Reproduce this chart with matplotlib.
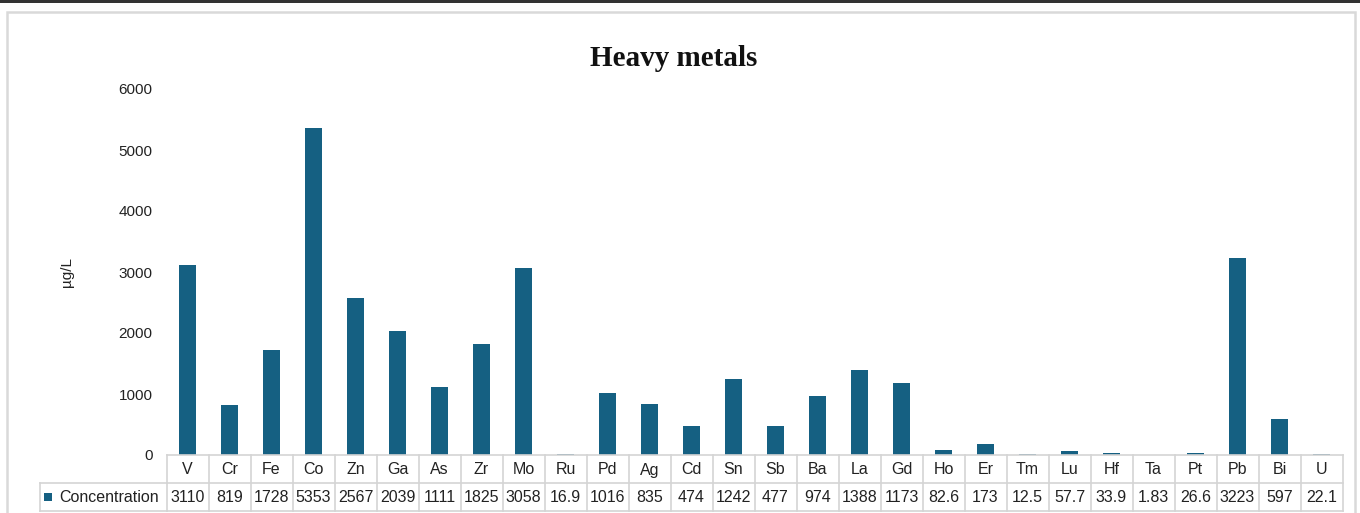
import matplotlib.pyplot as plt
from matplotlib.patches import Rectangle
from matplotlib.transforms import blended_transform_factory

# element concentrations
elements = ["V", "Cr", "Fe", "Co", "Zn", "Ga", "As", "Zr", "Mo", "Ru", "Pd", "Ag", "Cd", "Sn", "Sb",
            "Ba", "La", "Gd", "Ho", "Er", "Tm", "Lu", "Hf", "Ta", "Pt", "Pb", "Bi", "U"]
concentration = [3110, 819, 1728, 5353, 2567, 2039, 1111, 1825, 3058, 16.9, 1016, 835, 474, 1242, 477,
                 974, 1388, 1173, 82.6, 173, 12.5, 57.7, 33.9, 1.83, 26.6, 3223, 597, 22.1]
value_labels = ["3110", "819", "1728", "5353", "2567", "2039", "1111", "1825", "3058", "16.9", "1016",
                "835", "474", "1242", "477", "974", "1388", "1173", "82.6", "173", "12.5", "57.7",
                "33.9", "1.83", "26.6", "3223", "597", "22.1"]
yticks = [0, 1000, 2000, 3000, 4000, 5000, 6000]

BAR = "#156082"
GRID = "#d4d4d4"
W, H = 1360, 513

plt.rcParams["font.family"] = ["Liberation Sans", "DejaVu Sans"]
fig = plt.figure(figsize=(W / 100, H / 100), dpi=100)


def fy(p):
    return 1 - p / H


def fx(p):
    return p / W


# dark strip on top and the chart frame
fig.add_artist(Rectangle((0, fy(3)), 1, 3 / H, transform=fig.transFigure, color="#333333", lw=0))
fig.add_artist(Rectangle((fx(7), fy(520)), fx(1355 - 7), (520 - 12) / H, transform=fig.transFigure,
                         fill=False, ec="#d9d9d9", lw=1.8))

x0, x1 = 166.5, 1342.5
y_top, y_zero = 89, 455
ax = fig.add_axes([fx(x0), fy(y_zero), fx(x1 - x0), (y_zero - y_top) / H])
n = len(elements)
pos = list(range(n))
ax.bar(pos, concentration, width=0.42, color=BAR)
ax.set_xlim(-0.5, n - 0.5)
ax.set_ylim(0, 6000)
ax.set_xticks([])
ax.set_yticks(yticks)
ax.set_yticklabels([str(t) for t in yticks], fontsize=11, color="#222222")
ax.tick_params(axis="y", length=0, pad=10)
for s in ax.spines.values():
    s.set_visible(False)
ax.set_ylabel("µg/L", fontsize=11, color="#222222", labelpad=32)

fig.text(0.495, fy(58), "Heavy metals", ha="center", va="center", fontsize=21,
         fontweight="bold", family=["Liberation Serif", "DejaVu Serif"], color="#111111")

# data table under the bars
tr = blended_transform_factory(ax.transData, fig.transFigure)
r0, r1, r2 = 455, 483, 511
kw = dict(color=GRID, lw=1.2, clip_on=False)
ax.plot([-0.5, n - 0.5], [fy(r0), fy(r0)], transform=tr, **kw)
ax.plot([-0.5, n - 0.5], [fy(r1), fy(r1)], transform=tr, **kw)
ax.plot([-0.5, n - 0.5], [fy(r2), fy(r2)], transform=tr, **kw)
for i in range(n + 1):
    ax.plot([i - 0.5, i - 0.5], [fy(r0), fy(r2)], transform=tr, **kw)
fig.add_artist(plt.Line2D([fx(40), fx(x0)], [fy(r1), fy(r1)], transform=fig.transFigure, color=GRID, lw=1.2))
fig.add_artist(plt.Line2D([fx(40), fx(x0)], [fy(r2), fy(r2)], transform=fig.transFigure, color=GRID, lw=1.2))
fig.add_artist(plt.Line2D([fx(40), fx(40)], [fy(r1), fy(r2)], transform=fig.transFigure, color=GRID, lw=1.2))

for i in range(n):
    ax.text(i, fy((r0 + r1) / 2 + 1), elements[i], transform=tr, ha="center", va="center",
            fontsize=11.5, color="#222222")
    ax.text(i, fy((r1 + r2) / 2 + 1), value_labels[i], transform=tr, ha="center", va="center",
            fontsize=11.5, color="#222222")

fig.add_artist(Rectangle((fx(44), fy(501)), 8 / W, 8 / H, transform=fig.transFigure, color=BAR, lw=0))
fig.text(fx(59), fy((r1 + r2) / 2 + 1), "Concentration", ha="left", va="center", fontsize=11.5,
         color="#222222")

fig.savefig("out.png", dpi=100)
